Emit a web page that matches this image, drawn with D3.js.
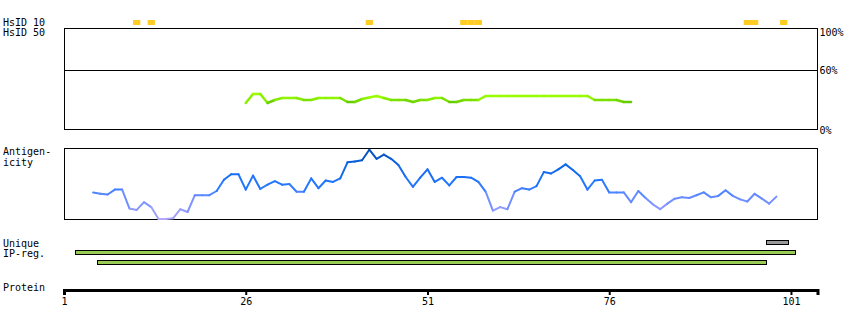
<!DOCTYPE html>
<html>
<head>
<meta charset="utf-8">
<script src="https://cdn.jsdelivr.net/npm/d3@7"></script>
<style>
  body { margin: 0; background: #fff; }
  svg { display: block; }
  text { font-family: "DejaVu Sans Mono", monospace; font-size: 10px; fill: #000; }
</style>
</head>
<body>
<svg id="chart" width="850" height="330"></svg>
<script>
// ---- data ----
const proteinEnd = 104.65;            // last residue edge on the protein ruler
const axisTicks = [1, 26, 51, 76, 101];
const identityTicks = [100, 60, 0];

// residues with a HsID 10 hit
const hsid10 = [11, 13, 43, 56, 57, 58, 95, 96, 100];
const hsid50 = [];

// identity (%) per residue, starting at residue 26
const identityStart = 26;
const identity = [
  27, 36, 36, 27, 30, 32, 32, 32, 30, 30,
  32, 32, 32, 32, 28, 28, 31, 32.5, 34, 32,
  30, 30, 30, 28, 30, 30, 32, 32, 28, 28,
  30, 30, 30, 34, 34, 34, 34, 34, 34, 34,
  34, 34, 34, 34, 34, 34, 34, 34, 30, 30,
  30, 30, 28, 28
];

// antigenicity (relative, 0..1) per residue, starting at residue 5
const antigenStart = 5;
const antigen = [
  0.38, 0.36, 0.35, 0.42, 0.42, 0.15, 0.13, 0.24, 0.17, 0.00,
  0.00, 0.01, 0.14, 0.10, 0.34, 0.34, 0.34, 0.40, 0.56, 0.64,
  0.64, 0.42, 0.62, 0.43, 0.49, 0.54, 0.49, 0.50, 0.39, 0.39,
  0.58, 0.44, 0.55, 0.53, 0.58, 0.81, 0.82, 0.84, 0.99, 0.86,
  0.92, 0.86, 0.77, 0.60, 0.46, 0.59, 0.71, 0.53, 0.59, 0.48,
  0.60, 0.60, 0.59, 0.53, 0.39, 0.12, 0.17, 0.14, 0.39, 0.44,
  0.42, 0.47, 0.67, 0.65, 0.71, 0.78, 0.70, 0.61, 0.42, 0.55,
  0.56, 0.38, 0.38, 0.38, 0.24, 0.40, 0.30, 0.21, 0.14, 0.22,
  0.29, 0.31, 0.30, 0.34, 0.38, 0.31, 0.33, 0.41, 0.33, 0.28,
  0.25, 0.36, 0.29, 0.22, 0.32
];

// regions [start, end] in residues
const uniqueRegions = [[98, 100]];
const ipRegions = [[3, 101], [6, 97]];

// ---- layout ----
const svg = d3.select('#chart');
const LEFT = 64;
const RIGHT = 817.5;

const x = d3.scaleLinear().domain([1, proteinEnd]).range([LEFT, RIGHT]);
const half = (x(2) - x(1)) / 2; // half a residue in px

// identity panel
const ID_TOP = 28.5, ID_BOTTOM = 129.5;
const yId = d3.scaleLinear().domain([0, 100]).range([130, 30]);

// antigenicity panel
const AG_TOP = 148.5, AG_BOTTOM = 219.5;
const yAg = d3.scaleLinear().domain([0, 1]).range([219, 149]);

// colours
const idColor = d3.scaleLinear().domain([28, 33]).range(['#66cc00', '#99ff00']).clamp(true);
const agColor = d3.scaleLinear()
  .domain([0, 0.3, 0.5, 0.8, 1])
  .range(['#b4a8ff', '#6a8cff', '#2277ff', '#0a62e0', '#0048a8'])
  .clamp(true);

// ---- row labels ----
const labels = [
  { t: 'HsID 10', y: 26 },
  { t: 'HsID 50', y: 36 },
  { t: 'Antigen-', y: 155 },
  { t: 'icity', y: 166 },
  { t: 'Unique', y: 247 },
  { t: 'IP-reg.', y: 257 },
  { t: 'Protein', y: 291 }
];
svg.append('g').selectAll('text')
  .data(labels)
  .join('text')
  .attr('x', 3)
  .attr('y', d => d.y)
  .text(d => d.t);

// ---- HsID hits ----
svg.append('g').selectAll('rect')
  .data(hsid10)
  .join('rect')
  .attr('x', d => x(d) - half)
  .attr('y', 20)
  .attr('width', half * 2)
  .attr('height', 5)
  .attr('fill', '#ffcc22');

svg.append('g').selectAll('rect')
  .data(hsid50)
  .join('rect')
  .attr('x', d => x(d) - half)
  .attr('y', 30)
  .attr('width', half * 2)
  .attr('height', 5)
  .attr('fill', '#ffcc22');

// ---- identity panel ----
svg.append('rect')
  .attr('x', LEFT + 0.5)
  .attr('y', ID_TOP)
  .attr('width', RIGHT - LEFT - 0.5)
  .attr('height', ID_BOTTOM - ID_TOP)
  .attr('fill', 'none')
  .attr('stroke', '#000');

svg.append('line')
  .attr('x1', LEFT)
  .attr('x2', RIGHT)
  .attr('y1', Math.round(yId(60)) + 0.5)
  .attr('y2', Math.round(yId(60)) + 0.5)
  .attr('stroke', '#000');

svg.append('g').selectAll('text')
  .data(identityTicks)
  .join('text')
  .attr('x', RIGHT + 2)
  .attr('y', d => d === 100 ? 36 : Math.round(yId(d)) + 4)
  .text(d => d + '%');

const idPoints = identity.map((v, i) => ({ r: identityStart + i, v }));
svg.append('g').selectAll('line')
  .data(d3.pairs(idPoints))
  .join('line')
  .attr('x1', d => x(d[0].r))
  .attr('y1', d => yId(d[0].v))
  .attr('x2', d => x(d[1].r))
  .attr('y2', d => yId(d[1].v))
  .attr('stroke', d => idColor((d[0].v + d[1].v) / 2))
  .attr('stroke-width', 2.5)
  .attr('stroke-linecap', 'round');

// ---- antigenicity panel ----
svg.append('rect')
  .attr('x', LEFT + 0.5)
  .attr('y', AG_TOP)
  .attr('width', RIGHT - LEFT - 0.5)
  .attr('height', AG_BOTTOM - AG_TOP)
  .attr('fill', 'none')
  .attr('stroke', '#000');

const agPoints = antigen.map((v, i) => ({ r: antigenStart + i, v }));
svg.append('g').selectAll('line')
  .data(d3.pairs(agPoints))
  .join('line')
  .attr('x1', d => x(d[0].r))
  .attr('y1', d => yAg(d[0].v))
  .attr('x2', d => x(d[1].r))
  .attr('y2', d => yAg(d[1].v))
  .attr('stroke', d => agColor((d[0].v + d[1].v) / 2))
  .attr('stroke-width', 2)
  .attr('stroke-linecap', 'round');

// ---- region bars ----
function drawRegions(data, y, fill) {
  svg.append('g').selectAll('rect')
    .data(data)
    .join('rect')
    .attr('x', d => Math.round(x(d[0]) - half) + 0.5)
    .attr('y', (d, i) => y + i * 10)
    .attr('width', d => Math.round(x(d[1]) - x(d[0]) + 2 * half))
    .attr('height', 4)
    .attr('fill', fill)
    .attr('stroke', '#000');
}
drawRegions(uniqueRegions, 240.5, '#999999');
drawRegions(ipRegions, 250.5, '#99cc55');

// ---- protein ruler ----
const axis = svg.append('g')
  .attr('transform', 'translate(0,290)')
  .call(d3.axisBottom(x).tickValues(axisTicks).tickSize(5).tickSizeOuter(5));

axis.attr('font-family', null).attr('font-size', null);
axis.select('.domain').attr('stroke-width', 3);
axis.selectAll('.tick line').attr('stroke-width', 2);
axis.selectAll('.tick text').attr('y', 8).attr('fill', '#000');
</script>
</body>
</html>
